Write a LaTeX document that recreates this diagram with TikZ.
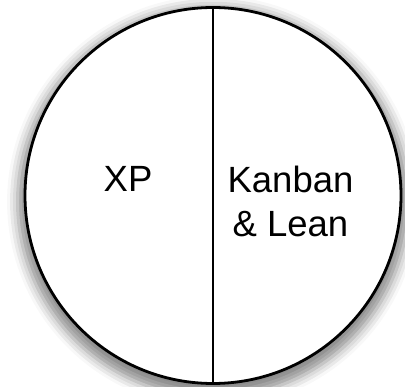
\documentclass[tikz,border=0pt]{standalone}
\usepackage{fontspec}
\setmainfont{Liberation Sans}
\usetikzlibrary{shadows.blur}
\tikzset{
  pie/.style={circle, draw=black, line width=2.8pt, fill=white, inner sep=0pt, minimum size=376pt,
    blur shadow={shadow xshift=0pt, shadow yshift=-6pt, shadow scale=1.04, shadow blur radius=10pt, shadow opacity=45}},
  divider/.style={draw=black, line width=2.4pt},
  lbl/.style={font=\fontsize{36.5}{44}\selectfont, align=center, inner sep=0pt}
}
\begin{document}
\begin{tikzpicture}[x=1pt,y=1pt]
\useasboundingbox (0,0) rectangle (405,-387);
\node[pie] (c) at (213,-195.5) {};
\draw[divider] (c.north) -- (c.south);
\node[lbl] (xp) at (128,-179) {XP};
\node[lbl] (kl) at (290.5,-201) {Kanban\\\& Lean};
\end{tikzpicture}
\end{document}
